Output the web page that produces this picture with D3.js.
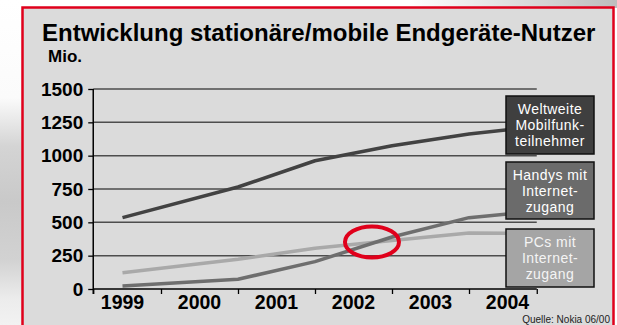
<!DOCTYPE html>
<html>
<head>
<meta charset="utf-8">
<script src="https://cdn.jsdelivr.net/npm/d3@7"></script>
<style>
  html, body { margin: 0; padding: 0; background: #fff; }
  svg { display: block; font-family: "Liberation Sans", Arial, sans-serif; }
</style>
</head>
<body>
<script>

var width = 617;
var height = 325;

// data
var years = ["1999", "2000", "2001", "2002", "2003", "2004"];
var yTicks = [0, 250, 500, 750, 1000, 1250, 1500];
var times = [1999.5, 2001, 2002, 2003, 2004, 2005];
var mobilfunk = [535, 765, 962, 1075, 1162, 1225];
var handys = [22, 73, 205, 390, 535, 590];
var pcs = [122, 223, 305, 364, 420, 415];
var legendLabels = [
  ["Weltweite", "Mobilfunk-", "teilnehmer"],
  ["Handys mit", "Internet-", "zugang"],
  ["PCs mit", "Internet-", "zugang"]
];
var highlight = [2002.74, 353];

var svg = d3.select("body")
  .append("svg")
  .attr("width", width)
  .attr("height", height);

var defs = svg.append("defs");
var g1 = defs.append("linearGradient").attr("id", "leftbg")
  .attr("x1", 0).attr("y1", 0).attr("x2", 0).attr("y2", 1);
[[0, "#ffffff"], [0.3, "#fbfbfb"], [0.45, "#d4d4d4"], [0.62, "#c9c9c9"], [0.8, "#d2d2d2"], [0.92, "#ececec"], [1, "#f2f2f2"]]
  .forEach(function(s){ g1.append("stop").attr("offset", s[0]).attr("stop-color", s[1]); });
var g2 = defs.append("linearGradient").attr("id", "topbg")
  .attr("x1", 0).attr("y1", 0).attr("x2", 1).attr("y2", 0);
[[0, "#ffffff"], [0.65, "#ffffff"], [1, "#bdbdbd"]]
  .forEach(function(s){ g2.append("stop").attr("offset", s[0]).attr("stop-color", s[1]); });

svg.append("rect").attr("width", width).attr("height", height).attr("fill", "#fff");
svg.append("rect").attr("x", 0).attr("y", 0).attr("width", 24).attr("height", height).attr("fill", "url(#leftbg)");
svg.append("rect").attr("x", 24).attr("y", 0).attr("width", width - 24).attr("height", 8).attr("fill", "url(#topbg)");

// frame
svg.append("rect")
  .attr("x", 22.5).attr("y", 7.5)
  .attr("width", 591).attr("height", 340)
  .attr("fill", "#dbdbdb")
  .attr("stroke", "#e0001b")
  .attr("stroke-width", 2.5);

svg.append("text")
  .attr("x", 42).attr("y", 41)
  .attr("font-size", 24).attr("font-weight", "bold").attr("fill", "#000")
  .text("Entwicklung stationäre/mobile Endgeräte-Nutzer");
svg.append("text")
  .attr("x", 48).attr("y", 62)
  .attr("font-size", 17).attr("font-weight", "bold").attr("fill", "#000")
  .text("Mio.");

var x = d3.scaleLinear().domain([1999, 2005]).range([84, 546]);
var y = d3.scaleLinear().domain([0, 1500]).range([289, 89]);
var axisStart = 1999.12, axisEnd = 2004.88;

// grid
svg.append("g").selectAll("line")
  .data(yTicks.filter(function(d){ return d > 0; }))
  .enter().append("line")
  .attr("x1", x(axisStart)).attr("x2", x(axisEnd))
  .attr("y1", function(d){ return y(d); })
  .attr("y2", function(d){ return y(d); })
  .attr("stroke", "#4d4d4d").attr("stroke-width", 1.5);

// y axis
var yAxis = svg.append("g")
  .attr("transform", "translate(" + x(axisStart) + ",0)")
  .call(d3.axisLeft(y).tickValues(yTicks).tickFormat(d3.format("d")).tickSize(5).tickPadding(5));
yAxis.select(".domain").remove();
yAxis.selectAll(".tick line").attr("stroke", "#000").attr("stroke-width", 1.3);
yAxis.selectAll(".tick text")
  .attr("font-family", "Liberation Sans, Arial, sans-serif")
  .attr("font-size", 19).attr("font-weight", "bold").attr("fill", "#000");
svg.append("line")
  .attr("x1", x(axisStart)).attr("x2", x(axisStart))
  .attr("y1", y(1500)).attr("y2", y(0) + 5)
  .attr("stroke", "#000").attr("stroke-width", 1.5);

// x axis
var tickYears = [axisStart].concat(years.slice(1).map(Number)).concat([axisEnd]);
var xAxis = svg.append("g")
  .attr("transform", "translate(0," + y(0) + ")")
  .call(d3.axisBottom(x).tickValues(tickYears).tickSize(5).tickFormat(""));
xAxis.select(".domain").remove();
xAxis.selectAll(".tick line").attr("stroke", "#000").attr("stroke-width", 1.3);
svg.append("line")
  .attr("x1", x(axisStart)).attr("x2", x(axisEnd))
  .attr("y1", y(0)).attr("y2", y(0))
  .attr("stroke", "#000").attr("stroke-width", 1.5);

svg.append("g").selectAll("text")
  .data(years)
  .enter().append("text")
  .attr("x", function(d){ return x(+d + 0.5); })
  .attr("y", y(0) + 20)
  .attr("text-anchor", "middle")
  .attr("font-size", 19.5).attr("font-weight", "bold").attr("fill", "#000")
  .text(function(d){ return d; });

// lines
var series = [
  {values: pcs, color: "#a9a9a9"},
  {values: handys, color: "#6e6e6e"},
  {values: mobilfunk, color: "#424242"}
];
var line = d3.line()
  .x(function(d){ return x(d[0]); })
  .y(function(d){ return y(d[1]); });

svg.append("g").selectAll("path")
  .data(series)
  .enter().append("path")
  .attr("d", function(s){ return line(d3.zip(times, s.values)); })
  .attr("fill", "none")
  .attr("stroke", function(s){ return s.color; })
  .attr("stroke-width", 3.5)
  .attr("stroke-linejoin", "round");

// label boxes
var boxes = [
  {top: 96, h: 58, fill: "#3f3f3f", text: "#ffffff", lines: legendLabels[0]},
  {top: 162, h: 57, fill: "#6b6b6b", text: "#ffffff", lines: legendLabels[1]},
  {top: 229, h: 58, fill: "#a5a5a5", text: "#f4f4f4", lines: legendLabels[2]}
];
var bx = 506, bw = 88;
var bg = svg.append("g").selectAll("g").data(boxes).enter().append("g");
bg.append("rect")
  .attr("x", bx).attr("y", function(d){ return d.top; })
  .attr("width", bw).attr("height", function(d){ return d.h; })
  .attr("fill", function(d){ return d.fill; })
  .attr("stroke", "#111").attr("stroke-width", 1.5);
bg.each(function(d){
  d3.select(this).selectAll("text")
    .data(d.lines)
    .enter().append("text")
    .attr("x", bx + bw / 2)
    .attr("y", function(t, i){ return d.top + 17.5 + i * 16.4; })
    .attr("text-anchor", "middle")
    .attr("font-size", 14)
    .attr("letter-spacing", 0.45)
    .attr("fill", d.text)
    .text(function(t){ return t; });
});

// highlight ellipse
svg.append("ellipse")
  .attr("cx", x(highlight[0])).attr("cy", y(highlight[1]))
  .attr("rx", 27).attr("ry", 15.5)
  .attr("fill", "none")
  .attr("stroke", "#e0001b").attr("stroke-width", 4);

svg.append("text")
  .attr("x", 610).attr("y", 323)
  .attr("text-anchor", "end")
  .attr("font-size", 10).attr("fill", "#222")
  .text("Quelle: Nokia 06/00");

</script>
</body>
</html>
